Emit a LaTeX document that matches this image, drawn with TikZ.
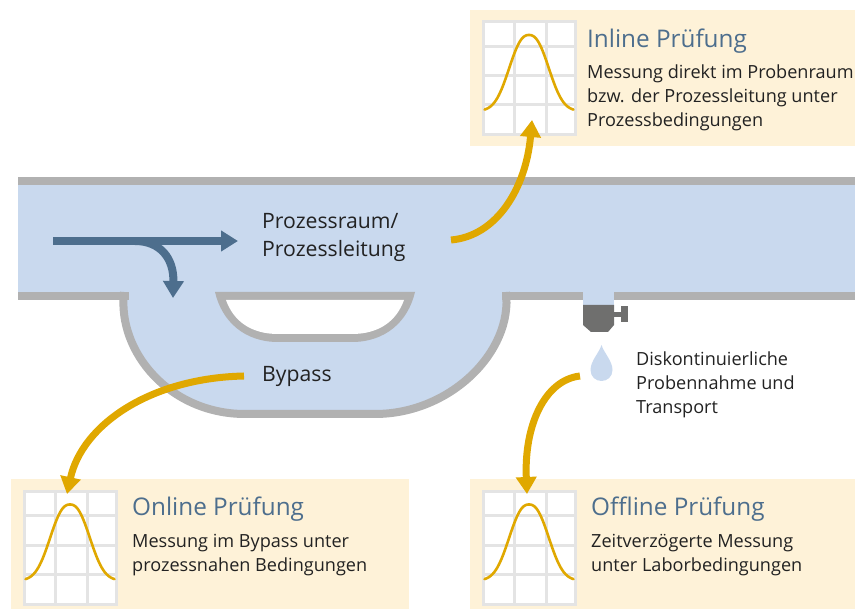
\documentclass[tikz,border=0pt]{standalone}
\usepackage{fontspec}
\setmainfont{Open Sans}
\usetikzlibrary{arrows.meta}
\definecolor{pipeblue}{HTML}{C9D9EE}
\definecolor{wallgray}{HTML}{B1B1B1}
\definecolor{flowblue}{HTML}{4D6E8D}
\definecolor{amber}{HTML}{E0A800}
\definecolor{cardbg}{HTML}{FEF2D8}
\definecolor{gridgray}{HTML}{E4E4E4}
\definecolor{devgray}{HTML}{6F6F6E}
\definecolor{inktext}{HTML}{222222}
\tikzset{
  card/.style={fill=cardbg,draw=none},
  wall/.style={draw=wallgray,line width=8pt},
  title/.style={anchor=base west,inner sep=0pt,text=flowblue,font=\fontsize{24.3}{28}\selectfont},
  body/.style={anchor=base west,inner sep=0pt,text=inktext,font=\fontsize{18.1}{24}\selectfont},
  big/.style={body,font=\fontsize{21.2}{26}\selectfont},
  flow/.style={draw=flowblue,line width=8pt,-{Triangle[length=17pt,width=20pt]}},
  sample/.style={draw=amber,line width=7pt,-{Triangle[length=17pt,width=20pt]}},
  chart/.pic={
    \fill[white] (0,0) rectangle (92,113);
    \draw[gridgray,line width=3pt] (0,0) rectangle (92,113);
    \draw[gridgray,line width=3pt] (31.5,0)--(31.5,113) (63,0)--(63,113)
      (0,24.5)--(92,24.5) (0,54)--(92,54) (0,83)--(92,83);
    \draw[amber,line width=2.6pt,line cap=round,samples=70,smooth,domain=1.5:90.5]
      plot (\x,{89-76*exp(-((abs(\x-46)+0.01)/25)^2.4)});
  }
}
\begin{document}
\begin{tikzpicture}[x=1pt,y=-1pt]
\useasboundingbox (0,0) rectangle (855,609);
% cards
\fill[card] (470,10) rectangle (855,146);
\fill[card] (11,479) rectangle (409,609);
\fill[card] (470,479) rectangle (855,609);
\pic at (483,22) {chart};
\pic at (24,491.5) {chart};
\pic at (483,491.5) {chart};
% pipe
\fill[pipeblue] (18,181) rectangle (855,296);
\fill[pipeblue] (124,296) .. controls (117,352) and (170,414) .. (245,414)
  -- (375,414) .. controls (450,414) and (513,352) .. (506,296) -- cycle;
\fill[pipeblue] (583,280) rectangle (614,306);
% walls
\draw[wall] (18,181) -- (855,181);
\draw[wall] (18,296) -- (129,296);
\draw[wall] (502,296) -- (583,296);
\draw[wall] (614,296) -- (855,296);
\draw[wall] (124,292) .. controls (117,352) and (170,414) .. (245,414)
  -- (375,414) .. controls (450,414) and (513,352) .. (506,292);
% island in the bypass
\fill[wallgray] (215,292) -- (415,292) .. controls (408,322) and (385,342) .. (352,342)
  -- (278,342) .. controls (245,342) and (222,322) .. (215,292) -- cycle;
\fill[white] (226,300) -- (404,300) .. controls (397,320) and (380,334) .. (352,334)
  -- (278,334) .. controls (250,334) and (233,320) .. (226,300) -- cycle;
% sampling device
\fill[devgray] (583,305) -- (614,305) -- (614,325) -- (608,332) -- (591,332) -- (583,325) -- cycle;
\fill[devgray] (614,312) rectangle (622,317);
\fill[devgray] (621,306) rectangle (628,322);
\fill[pipeblue] (601.5,345) .. controls (604,353) and (612.5,361) .. (612.5,370)
  .. controls (612.5,377) and (607,381) .. (601.5,381)
  .. controls (596,381) and (590.5,377) .. (590.5,370)
  .. controls (590.5,361) and (599,353) .. (601.5,345) -- cycle;
% text
\node[big] (raum1) at (262,229) {Prozessraum/};
\node[big] (raum2) at (262,257) {Prozessleitung};
\node[big] (byp) at (262,382) {Bypass};
\node[body] (d1) at (636,366) {Diskontinuierliche};
\node[body] (d2) at (636,390) {Probennahme und};
\node[body] (d3) at (636,414) {Transport};
\node[title] (inl) at (587,48) {Inline Prüfung};
\node[body] (i1) at (587,79) {Messung direkt im Probenraum};
\node[body] (i2) at (587,103) {bzw. der Prozessleitung unter};
\node[body] (i3) at (587,127) {Prozessbedingungen};
\node[title] (onl) at (132,516) {Online Prüfung};
\node[body] (o1) at (132,548) {Messung im Bypass unter};
\node[body] (o2) at (132,572) {prozessnahen Bedingungen};
\node[title] (off) at (591,516) {Offline Prüfung};
\node[body] (f1) at (591,548) {Zeitverzögerte Messung};
\node[body] (f2) at (591,572) {unter Laborbedingungen};
% connectors
\coordinate (fstart) at (53,241);
\coordinate (fend) at (238,241);
\coordinate (fbranch) at (135,241);
\coordinate (fdown) at (173,298);
\draw[flow] (fstart) -- (fend);
\draw[flow] (fbranch) .. controls (160,241) and (174,258) .. (fdown);
\coordinate (ia) at (451,240);
\coordinate (ib) at (532,120);
\coordinate (oa) at (244,376);
\coordinate (ob) at (67,494);
\coordinate (fa) at (580,376);
\coordinate (fb) at (527,494);
\draw[sample] (ia) .. controls (497,236) and (526,188) .. (ib);
\draw[sample] (oa) .. controls (150,378) and (82,425) .. (ob);
\draw[sample] (fa) .. controls (545,380) and (524,425) .. (fb);
\end{tikzpicture}
\end{document}
